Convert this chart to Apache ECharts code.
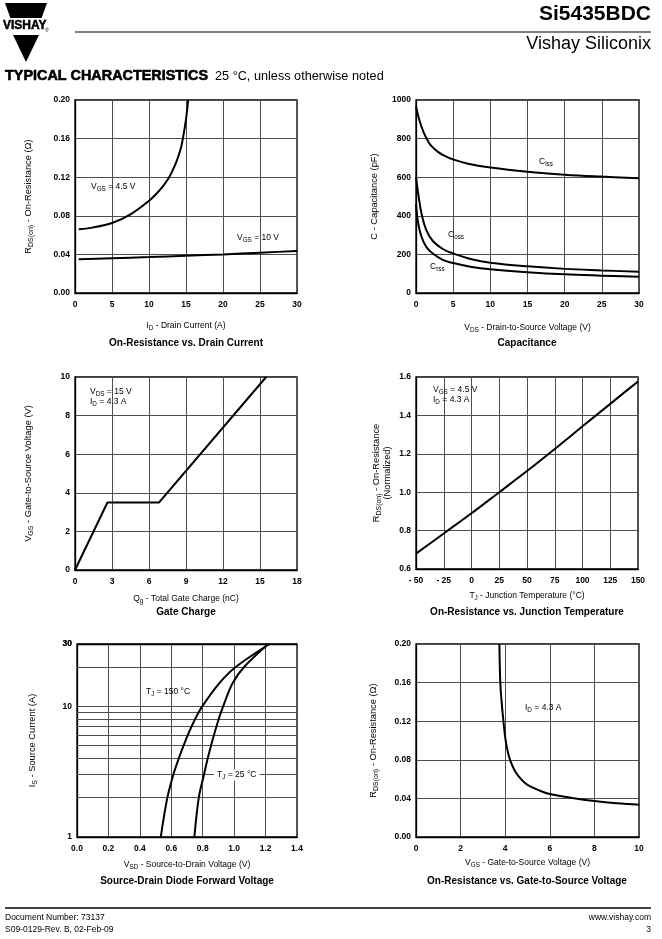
<!DOCTYPE html>
<html><head><meta charset="utf-8">
<script src="https://cdn.jsdelivr.net/npm/echarts@6/dist/echarts.min.js"></script>
<style>html,body{margin:0;padding:0;background:#fff}#c{width:662px;height:939px}</style>
</head><body><div id="c"></div>
<script>
// ---------- DATA ----------
// Chart 1: On-Resistance vs. Drain Current  [ID (A), RDS(on) (Ohm)]
const rdsId_vgs45 = [[0.5,0.066],[2.5,0.068],[5,0.0725],[7.5,0.0815],[10,0.0955],[11.5,0.107],[12.4,0.116],[13,0.124],[13.75,0.137],[14.3,0.15],[14.6,0.161],[15,0.18],[15.3,0.20]];
const rdsId_vgs10 = [[0.5,0.035],[5,0.036],[10,0.0372],[15,0.0386],[20,0.040],[25,0.0418],[30,0.0435]];
// Chart 2: Capacitance [VDS (V), C (pF)]
const ciss = [[0,965],[0.5,890],[1,835],[1.5,795],[2,765],[3,730],[4,708],[5,692],[7,670],[10,650],[15,628],[20,613],[25,603],[30,595]];
const coss = [[0,600],[0.3,515],[0.75,410],[1.4,325],[2.3,268],[3.6,228],[5,205],[7.5,175],[10,157],[15,138],[20,125],[25,117],[30,110]];
const crss = [[0,460],[0.3,360],[0.75,290],[1.4,238],[2.3,203],[3.6,172],[5,155],[7.5,135],[10,123],[15,108],[20,97],[25,90],[30,84]];
// Chart 3: Gate Charge [Qg (nC), VGS (V)]
const gateCharge = [[0,0],[2.63,3.5],[6.82,3.5],[15.5,10]];
// Chart 4: On-Resistance vs Junction Temperature [TJ (C), normalized]
const rdsTemp = [[-50,0.68],[-25,0.785],[0,0.89],[25,1.0],[50,1.11],[75,1.225],[100,1.343],[125,1.46],[150,1.577]];
// Chart 5: Source-Drain Diode Forward Voltage [VSD (V), IS (A)]
const is150 = [[0.533,1],[0.575,2],[0.613,3],[0.648,4],[0.678,5],[0.704,6],[0.752,8],[0.797,10],[0.905,15],[1.01,20],[1.225,30]];
const is25 = [[0.747,1],[0.775,2],[0.808,3],[0.832,4],[0.853,5],[0.871,6],[0.902,8],[0.93,10],[0.99,15],[1.063,20],[1.217,30]];
const isMinorGrid = [2,3,4,5,6,7,8,9,20];
const isTopLabel = 30;
// Chart 6: On-Resistance vs Gate-to-Source Voltage [VGS (V), RDS(on)]
const rdsVgs = [[3.74,0.20],[3.78,0.16],[3.84,0.14],[3.92,0.12],[4.02,0.10],[4.15,0.085],[4.3,0.075],[4.5,0.066],[4.75,0.059],[5.0,0.054],[5.5,0.0485],[6,0.0445],[7,0.0405],[8,0.0373],[9,0.035],[10,0.0335]];

// ---------- STYLE ----------
const FF = '"Liberation Sans", Arial, Helvetica, sans-serif';
const gridLine = {show:true, lineStyle:{color:'#4d4d4d', width:1}};
function mkRich(sz){ return {
  n:{fontFamily:FF, fontSize:sz, color:'#000'},
  s:{fontFamily:FF, fontSize:sz*0.75, color:'#000', padding:[Math.round(sz*0.6),0,0,0]}
};}
const richX = mkRich(8.5), richY = mkRich(9.3), richA = mkRich(8.5);
function label(fmt){ return {fontFamily:FF, fontSize:8.5, fontWeight:'bold', color:'#000', margin:7, formatter:fmt}; }
function xAx(gi, min, max, interval, name, gap, fmt){
  return {type:'value', gridIndex:gi, min, max, interval, name, nameLocation:'middle', nameGap:gap,
    nameTextStyle:{rich:richX}, axisLine:{show:true, onZero:false, lineStyle:{color:'#000', width:1.3}},
    axisTick:{show:false}, splitLine:gridLine, axisLabel:label(fmt)};
}
function yAx(gi, min, max, interval, name, gap, fmt, type){
  const a = {type:type||'value', gridIndex:gi, min, max, name, nameLocation:'middle', nameGap:gap,
    nameTextStyle:{rich:richY}, axisLine:{show:true, onZero:false, lineStyle:{color:'#000', width:1.3}},
    axisTick:{show:false}, splitLine:gridLine, axisLabel:Object.assign(label(fmt),{margin:5})};
  if (interval) a.interval = interval;
  return a;
}
function line(gi, data, smooth, extra){
  return Object.assign({type:'line', xAxisIndex:gi, yAxisIndex:gi, data, showSymbol:false, symbol:'none',
    smooth:smooth, lineStyle:{color:'#000', width:2}, silent:true, z:5}, extra||{});
}
const f2 = v => v.toFixed(2), f1 = v => v.toFixed(1), f0 = v => String(v);
const neg = v => v < 0 ? '- ' + Math.abs(v) : String(v);

const grids = [
  {left:75, top:100, width:222, height:193},
  {left:416, top:100, width:223, height:193},
  {left:75, top:377, width:222, height:193},
  {left:416, top:377, width:222, height:192},
  {left:77, top:644, width:220, height:193},
  {left:416, top:644, width:223, height:193}
].map(g => Object.assign({show:true, borderColor:'#000', borderWidth:1.3, backgroundColor:'transparent'}, g));

const xAxes = [
  xAx(0,0,30,5,'{n|I}{s|D}{n| - Drain Current (A)}',27,f0),
  xAx(1,0,30,5,'{n|V}{s|DS}{n| - Drain-to-Source Voltage (V)}',29,f0),
  xAx(2,0,18,3,'{n|Q}{s|g}{n| - Total Gate Charge (nC)}',23,f0),
  xAx(3,-50,150,25,'{n|T}{s|J}{n| - Junction Temperature (°C)}',21,neg),
  xAx(4,0,1.4,0.2,'{n|V}{s|SD}{n| - Source-to-Drain Voltage (V)}',22,f1),
  xAx(5,0,10,2,'{n|V}{s|GS}{n| - Gate-to-Source Voltage (V)}',20,f0)
];
const yAxes = [
  yAx(0,0,0.2,0.04,'{n|R}{s|DS(on)}{n| - On-Resistance (Ω)}',40,f2),
  yAx(1,0,1000,200,'{n|C - Capacitance (pF)}',37,f0),
  yAx(2,0,10,2,'{n|V}{s|GS}{n| - Gate-to-Source Voltage (V)}',40,f0),
  yAx(3,0.6,1.6,0.2,'{n|R}{s|DS(on)}{n| - On-Resistance}\n{n|(Normalized)}',24,f1),
  yAx(4,1,30,null,'{n|I}{s|S}{n| - Source Current (A)}',38,f0,'log'),
  yAx(5,0,0.2,0.04,'{n|R}{s|DS(on)}{n| - On-Resistance (Ω)}',36,f2)
];
yAxes[4].logBase = 10;

const series = [
  line(0, rdsId_vgs45, 0.3),
  line(0, rdsId_vgs10, 0.2),
  line(1, ciss, 0.4),
  line(1, coss, 0.4),
  line(1, crss, 0.4),
  line(2, gateCharge, false),
  line(3, rdsTemp, 0.3),
  line(4, is150, 0.35),
  line(4, is25, 0.35, {markLine:{silent:true, symbol:'none', animation:false,
    lineStyle:{color:'#4d4d4d', width:1, type:'solid'}, label:{show:false},
    data: isMinorGrid.map(v => ({yAxis:v})).concat([{yAxis:isTopLabel, lineStyle:{color:'#000', width:1.3},
      label:{show:true, position:'start', formatter:String(isTopLabel), fontFamily:FF, fontSize:8.5, fontWeight:'bold', color:'#000', distance:5}}])}}),
  line(5, rdsVgs, 0.4)
];

function T(x, y, text, opts){
  return Object.assign({type:'text', x, y, z:100, silent:true,
    style:Object.assign({text, fill:'#000', font:'8.5px '+FF, textAlign:'left', textVerticalAlign:'middle', rich:richA}, opts||{})});
}
const graphic = [
  // logo
  {type:'polygon', z:100, shape:{points:[[5,3],[47,3],[41.6,18],[10.4,18]]}, style:{fill:'#000'}},
  {type:'polygon', z:100, shape:{points:[[13,35],[39,35],[26,62]]}, style:{fill:'#000'}},
  T(3,26,'VISHAY',{font:'bold 12px '+FF, stroke:'#000', lineWidth:0.5}),
  T(45,31,'®',{font:'5px '+FF}),
  // header
  T(651,14,'Si5435BDC',{font:'bold 21px '+FF, textAlign:'right'}),
  {type:'line', z:100, shape:{x1:75,y1:32,x2:651,y2:32}, style:{stroke:'#000', lineWidth:1}},
  T(651,44,'Vishay Siliconix',{font:'18px '+FF, textAlign:'right'}),
  T(5,76,'TYPICAL CHARACTERISTICS',{font:'bold 14.4px '+FF, stroke:'#000', lineWidth:0.6}),
  T(215,76,'25 °C, unless otherwise noted',{font:'12.7px '+FF}),
  // chart titles
  T(186,343,'On-Resistance vs. Drain Current',{font:'bold 10px '+FF, textAlign:'center'}),
  T(527,343,'Capacitance',{font:'bold 10px '+FF, textAlign:'center'}),
  T(186,612,'Gate Charge',{font:'bold 10px '+FF, textAlign:'center'}),
  T(527,612,'On-Resistance vs. Junction Temperature',{font:'bold 10px '+FF, textAlign:'center'}),
  T(187,881,'Source-Drain Diode Forward Voltage',{font:'bold 10px '+FF, textAlign:'center'}),
  T(527,881,'On-Resistance vs. Gate-to-Source Voltage',{font:'bold 10px '+FF, textAlign:'center'}),
  // annotations
  T(91,187,'{n|V}{s|GS}{n| = 4.5 V}'),
  T(237,238,'{n|V}{s|GS}{n| = 10 V}'),
  T(539,162,'{n|C}{s|iss}'),
  T(448,235,'{n|C}{s|oss}'),
  T(430,267,'{n|C}{s|rss}'),
  T(90,392,'{n|V}{s|DS}{n| = 15 V}'),
  T(90,402,'{n|I}{s|D}{n| = 4.3 A}'),
  T(433,390,'{n|V}{s|GS}{n| = 4.5 V}'),
  T(433,400,'{n|I}{s|D}{n| = 4.3 A}'),
  T(146,692,'{n|T}{s|J}{n| = 150 °C}'),
  T(214,775,'{n|T}{s|J}{n| = 25 °C}',{backgroundColor:'#fff', padding:[0,3,0,3]}),
  T(525,708,'{n|I}{s|D}{n| = 4.3 A}'),
  // footer
  {type:'line', z:100, shape:{x1:5,y1:908,x2:651,y2:908}, style:{stroke:'#000', lineWidth:1.5}},
  T(5,918,'Document Number: 73137',{font:'8.5px '+FF}),
  T(5,930,'S09-0129-Rev. B, 02-Feb-09',{font:'8.5px '+FF}),
  T(651,918,'www.vishay.com',{font:'8.5px '+FF, textAlign:'right'}),
  T(651,930,'3',{font:'8.5px '+FF, textAlign:'right'})
];

const chart = echarts.init(document.getElementById('c'), null, {renderer:'canvas'});
chart.setOption({animation:false, backgroundColor:'#fff', textStyle:{fontFamily:FF},
  grid:grids, xAxis:xAxes, yAxis:yAxes, series, graphic});
</script></body></html>
